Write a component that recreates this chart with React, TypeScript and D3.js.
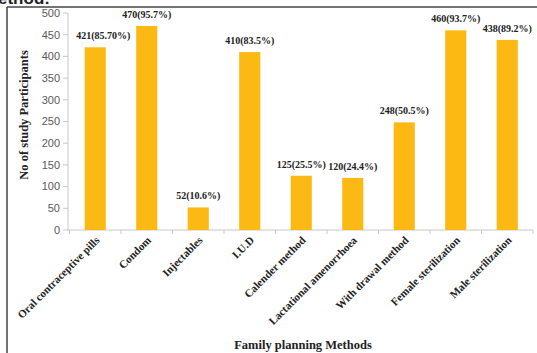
import React from "react";
import * as d3 from "d3";

const categories = [
  "Oral contraceptive pills",
  "Condom",
  "Injectables",
  "I.U.D",
  "Calender method",
  "Lactational amenorrhoea",
  "With drawal method",
  "Female sterilization",
  "Male sterilization",
];
const values = [421, 470, 52, 410, 125, 120, 248, 460, 438];
const valueLabels = [
  "421(85.70%)",
  "470(95.7%)",
  "52(10.6%)",
  "410(83.5%)",
  "125(25.5%)",
  "120(24.4%)",
  "248(50.5%)",
  "460(93.7%)",
  "438(89.2%)",
];
const yTicks = [0, 50, 100, 150, 200, 250, 300, 350, 400, 450, 500];

export default function App() {
  const W = 537,
    H = 353;
  const x = d3
    .scaleBand<string>()
    .domain(categories)
    .range([69.5, 533])
    .paddingInner(0.59)
    .paddingOuter(0.295);
  const y = d3.scaleLinear().domain([0, 500]).range([230, 13]);
  const step = x.step();
  const x0 = 69.5;
  const serif = "'Liberation Serif', 'Times New Roman', serif";
  const sans = "'Liberation Sans', Arial, sans-serif";

  return (
    <svg
      width={W}
      height={H}
      style={{ position: "absolute", left: 0, top: 0, background: "#fff" }}
    >
      <rect x={0} y={0} width={W} height={H} fill="#fff" />
      {/* cut-off caption text at the top */}
      <text x={-2} y={4} fontFamily={sans} fontWeight="bold" fontSize={17} fill="#222">
        ethod:
      </text>
      {/* frame */}
      <line x1={7} y1={7} x2={W} y2={7} stroke="#444" strokeWidth={1.5} />
      <line x1={7} y1={7} x2={7} y2={H} stroke="#444" strokeWidth={1.5} />

      {/* y axis */}
      <line x1={68} y1={y(500)} x2={68} y2={y(0)} stroke="#c8c8c8" strokeWidth={1} />
      {yTicks.map((t) => (
        <g key={t}>
          <line x1={63} x2={68} y1={y(t)} y2={y(t)} stroke="#c8c8c8" />
          <text
            x={60}
            y={y(t)}
            dy="0.35em"
            textAnchor="end"
            fontFamily={sans}
            fontSize={11}
            fill="#595959"
          >
            {t}
          </text>
        </g>
      ))}

      {/* x axis */}
      <line x1={68} x2={533} y1={y(0)} y2={y(0)} stroke="#c8c8c8" />
      {d3.range(categories.length + 1).map((i) => (
        <line
          key={i}
          x1={x0 + i * step}
          x2={x0 + i * step}
          y1={y(0)}
          y2={y(0) + 4}
          stroke="#c8c8c8"
        />
      ))}

      {/* bars */}
      {categories.map((c, i) => {
        const bx = x(c)!;
        const cx = bx + x.bandwidth() / 2;
        return (
          <g key={c}>
            <rect
              x={bx}
              y={y(values[i])}
              width={x.bandwidth()}
              height={y(0) - y(values[i])}
              fill="#fdb913"
            />
            <text
              x={cx + (i === 0 ? 8 : 0)}
              y={y(values[i]) - 8}
              textAnchor="middle"
              fontFamily={serif}
              fontWeight="bold"
              fontSize={10}
              fill="#222"
            >
              {valueLabels[i]}
            </text>
            <text
              transform={`translate(${cx + 5},${y(0) + 11}) rotate(-45)`}
              textAnchor="end"
              fontFamily={serif}
              fontWeight="bold"
              fontSize={11}
              fill="#222"
            >
              {c}
            </text>
          </g>
        );
      })}

      {/* axis titles */}
      <text
        x={303}
        y={349}
        textAnchor="middle"
        fontFamily={serif}
        fontWeight="bold"
        fontSize={12.5}
        fill="#222"
      >
        Family planning Methods
      </text>
      <text
        transform={`translate(28,115) rotate(-90)`}
        textAnchor="middle"
        fontFamily={serif}
        fontWeight="bold"
        fontSize={12.5}
        fill="#222"
      >
        No of study Participants
      </text>
    </svg>
  );
}
